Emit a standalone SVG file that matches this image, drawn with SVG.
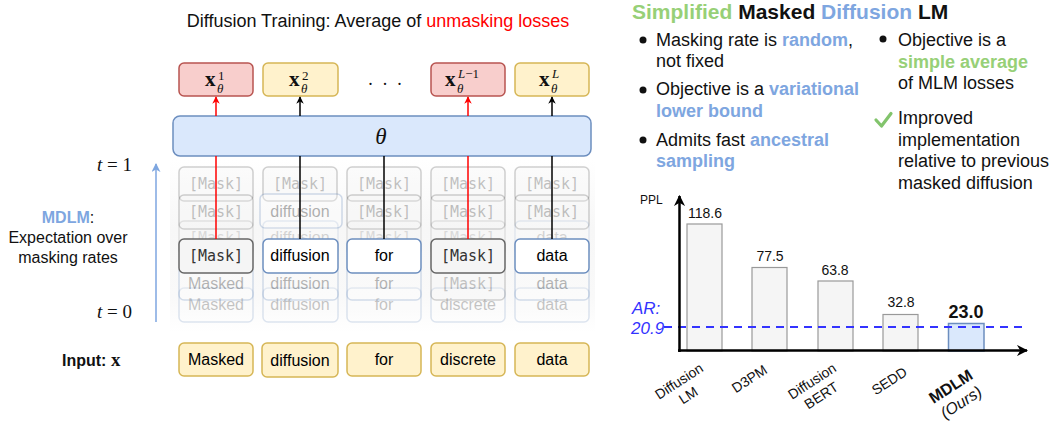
<svg xmlns="http://www.w3.org/2000/svg" width="1053" height="423" viewBox="0 0 1053 423">
<style>
.sans{font-family:"Liberation Sans",Arial,sans-serif}
.mono{font-family:"DejaVu Sans Mono","Liberation Mono",monospace}
.serif{font-family:"Liberation Serif","Times New Roman",serif}
.tok{font-family:"Liberation Sans",Arial,sans-serif;font-size:16px;text-anchor:middle}
.mk{font-family:"DejaVu Sans Mono","Liberation Mono",monospace;font-size:15px;text-anchor:middle;fill:#333}
.gbox{fill:#f5f5f5;stroke:#666;stroke-width:1.5}
.bbox{fill:#fff;stroke:#6c8ebf;stroke-width:1.5}
.ybox{fill:#fff2cc;stroke:#d6b656;stroke-width:1.5}
.rbox{fill:#f8cecc;stroke:#b85450;stroke-width:1.5}
.bar{fill:#f5f5f5;stroke:#999;stroke-width:1.2}
.blue{fill:#7ea6e0;font-weight:bold}
.green{fill:#97d077;font-weight:bold}
.bt{font-family:"Liberation Sans",Arial,sans-serif;font-size:18px;fill:#111}
.val{font-family:"Liberation Sans",Arial,sans-serif;font-size:14px;text-anchor:middle;fill:#111}
.xl{font-family:"Liberation Sans",Arial,sans-serif;font-size:14px;text-anchor:middle;fill:#111}
.mx{font-family:"Liberation Serif","Times New Roman",serif;font-size:21px;font-weight:bold;fill:#111}
.ms{font-family:"Liberation Serif","Times New Roman",serif;font-size:13px;fill:#111}
</style>
<defs>
<marker id="ar" viewBox="0 0 10 10" refX="9" refY="5" markerWidth="5" markerHeight="5" orient="auto"><path d="M0,0 L10,5 L0,10 L3,5 Z" fill="#ff0000"/></marker>
<marker id="ak" viewBox="0 0 10 10" refX="9" refY="5" markerWidth="5" markerHeight="5" orient="auto"><path d="M0,0 L10,5 L0,10 L3,5 Z" fill="#000"/></marker>
<marker id="ab" viewBox="0 0 10 10" refX="9" refY="5" markerWidth="6" markerHeight="6" orient="auto"><path d="M0,0 L10,5 L0,10 L3,5 Z" fill="#7ea6e0"/></marker>
<marker id="ax" viewBox="0 0 10 10" refX="9" refY="5" markerWidth="4.5" markerHeight="4.5" orient="auto"><path d="M0,0 L10,5 L0,10 L3,5 Z" fill="#000"/></marker>
<linearGradient id="bg" x1="0" y1="0" x2="0" y2="1">
<stop offset="0" stop-color="#fff"/><stop offset="0.4" stop-color="#f7f7f7"/><stop offset="0.8" stop-color="#f9f9f9"/><stop offset="1" stop-color="#fff"/>
</linearGradient>
</defs>
<rect width="1053" height="423" fill="#fff"/>

<!-- Left title -->
<text class="sans" x="378" y="27" font-size="18" text-anchor="middle" fill="#111">Diffusion Training: Average of <tspan fill="#ff0000">unmasking losses</tspan></text>

<!-- background band behind the token stack -->
<rect x="170" y="160" width="425" height="172" fill="url(#bg)"/>

<!-- faded token rows -->
<g id="row-t1" opacity="0.3">
<rect class="gbox" x="179" y="167" width="74" height="34" rx="5"/><text class="mk" x="216" y="189">[Mask]</text>
<rect class="gbox" x="263" y="167" width="74" height="34" rx="5"/><text class="mk" x="300" y="189">[Mask]</text>
<rect class="gbox" x="347" y="167" width="74" height="34" rx="5"/><text class="mk" x="384" y="189">[Mask]</text>
<rect class="gbox" x="431" y="167" width="74" height="34" rx="5"/><text class="mk" x="468" y="189">[Mask]</text>
<rect class="gbox" x="515" y="167" width="74" height="34" rx="5"/><text class="mk" x="552" y="189">[Mask]</text>
</g>
<g id="row-t2" opacity="0.3">
<rect class="gbox" x="179" y="195" width="74" height="34" rx="5"/><text class="mk" x="216" y="217">[Mask]</text>
<rect class="bbox" x="260" y="194" width="82" height="34" rx="5"/><text class="tok" x="300" y="217">diffusion</text>
<rect class="gbox" x="347" y="195" width="74" height="34" rx="5"/><text class="mk" x="384" y="217">[Mask]</text>
<rect class="gbox" x="431" y="195" width="74" height="34" rx="5"/><text class="mk" x="468" y="217">[Mask]</text>
<rect class="gbox" x="515" y="195" width="74" height="34" rx="5"/><text class="mk" x="552" y="217">[Mask]</text>
</g>
<g id="row-t3" opacity="0.15">
<rect class="gbox" x="179" y="221" width="74" height="34" rx="5"/><text class="mk" x="216" y="243">[Mask]</text>
<rect class="bbox" x="263" y="221" width="75" height="34" rx="5"/><text class="tok" x="300" y="243">diffusion</text>
<rect class="gbox" x="347" y="221" width="74" height="34" rx="5"/><text class="mk" x="384" y="243">[Mask]</text>
<rect class="gbox" x="431" y="221" width="74" height="34" rx="5"/><text class="mk" x="468" y="243">[Mask]</text>
<rect class="bbox" x="515" y="221" width="74" height="34" rx="5"/><text class="tok" x="552" y="243">data</text>
</g>
<g id="row-b2" opacity="0.22">
<rect class="bbox" x="179" y="288" width="74" height="34" rx="5"/><text class="tok" x="216" y="310">Masked</text>
<rect class="bbox" x="263" y="288" width="75" height="34" rx="5"/><text class="tok" x="300" y="310">diffusion</text>
<rect class="bbox" x="347" y="288" width="74" height="34" rx="5"/><text class="tok" x="384" y="310">for</text>
<rect class="bbox" x="431" y="288" width="74" height="34" rx="5"/><text class="tok" x="468" y="310">discrete</text>
<rect class="bbox" x="515" y="288" width="74" height="34" rx="5"/><text class="tok" x="552" y="310">data</text>
</g>
<g id="row-b1" opacity="0.28">
<rect class="bbox" x="179" y="266" width="74" height="34" rx="5"/><text class="tok" x="216" y="289">Masked</text>
<rect class="bbox" x="263" y="266" width="75" height="34" rx="5"/><text class="tok" x="300" y="289">diffusion</text>
<rect class="bbox" x="347" y="266" width="74" height="34" rx="5"/><text class="tok" x="384" y="289">for</text>
<rect class="gbox" x="431" y="266" width="74" height="34" rx="5"/><text class="mk" x="468" y="289">[Mask]</text>
<rect class="bbox" x="515" y="266" width="74" height="34" rx="5"/><text class="tok" x="552" y="289">data</text>
</g>

<!-- main token row -->
<g id="tok-1"><rect class="gbox" x="179" y="239" width="74" height="34" rx="5"/><text class="mk" x="216" y="261">[Mask]</text></g>
<g id="tok-2"><rect class="bbox" x="263" y="239" width="75" height="34" rx="5"/><text class="tok" x="300" y="261">diffusion</text></g>
<g id="tok-3"><rect class="bbox" x="347" y="239" width="74" height="34" rx="5"/><text class="tok" x="384" y="261">for</text></g>
<g id="tok-4"><rect class="gbox" x="431" y="239" width="74" height="34" rx="5"/><text class="mk" x="468" y="261">[Mask]</text></g>
<g id="tok-5"><rect class="bbox" x="515" y="239" width="74" height="34" rx="5"/><text class="tok" x="552" y="261">data</text></g>

<!-- theta network -->
<g id="theta">
<rect x="173" y="116" width="418" height="40" rx="7" fill="#dae8fc" stroke="#6c8ebf" stroke-width="1.5"/>
<text class="serif" x="381" y="144" font-size="23" font-style="italic" text-anchor="middle" fill="#111">θ</text>
</g>

<!-- outputs -->
<g id="out-1"><rect class="rbox" x="179" y="63" width="74" height="33" rx="5"/>
<text class="mx" x="205" y="86">x</text>
<text class="ms" x="218" y="80">1</text>
<text class="ms" x="217" y="93" font-style="italic">θ</text></g>
<g id="out-2"><rect class="ybox" x="263" y="63" width="75" height="33" rx="5"/>
<text class="mx" x="289" y="86">x</text>
<text class="ms" x="302" y="80">2</text>
<text class="ms" x="301" y="93" font-style="italic">θ</text></g>
<text id="dots" class="serif" x="386" y="90" font-size="18" letter-spacing="2" text-anchor="middle" fill="#111">· · ·</text>
<g id="out-4"><rect class="rbox" x="431" y="63" width="74" height="33" rx="5"/>
<text class="mx" x="445" y="86">x</text>
<text class="ms" x="458" y="78"><tspan font-style="italic">L</tspan>−1</text>
<text class="ms" x="457" y="93" font-style="italic">θ</text></g>
<g id="out-5"><rect class="ybox" x="515" y="63" width="74" height="33" rx="5"/>
<text class="mx" x="539" y="86">x</text>
<text class="ms" x="552" y="78" font-style="italic">L</text>
<text class="ms" x="551" y="93" font-style="italic">θ</text></g>

<!-- input row -->
<text class="sans" x="62" y="366" font-size="16" font-weight="bold" fill="#111">Input: <tspan class="serif" font-size="19">x</tspan></text>
<g id="in-1"><rect class="ybox" x="179" y="343" width="74" height="33" rx="5"/><text class="tok" x="216" y="365">Masked</text></g>
<g id="in-2"><rect class="ybox" x="262" y="343" width="76" height="34" rx="5"/><text class="tok" x="300" y="366">diffusion</text></g>
<g id="in-3"><rect class="ybox" x="347" y="343" width="74" height="33" rx="5"/><text class="tok" x="384" y="365">for</text></g>
<g id="in-4"><rect class="ybox" x="431" y="343" width="74" height="33" rx="5"/><text class="tok" x="468" y="365">discrete</text></g>
<g id="in-5"><rect class="ybox" x="515" y="343" width="74" height="33" rx="5"/><text class="tok" x="552" y="365">data</text></g>

<!-- left labels -->
<text class="serif" x="132" y="171" font-size="19" text-anchor="end" fill="#111"><tspan font-style="italic">t</tspan> = 1</text>
<text class="serif" x="132" y="318" font-size="19" text-anchor="end" fill="#111"><tspan font-style="italic">t</tspan> = 0</text>
<text class="sans" x="68" y="223" font-size="16" text-anchor="middle" fill="#111"><tspan class="blue">MDLM</tspan>:</text>
<text class="sans" x="68" y="243" font-size="16" text-anchor="middle" fill="#111">Expectation over</text>
<text class="sans" x="68" y="263" font-size="16" text-anchor="middle" fill="#111">masking rates</text>

<!-- connectors -->
<g id="connectors" fill="none">
<line x1="156" y1="322" x2="156" y2="164" stroke="#7ea6e0" stroke-width="1.5" marker-end="url(#ab)"/>
<line x1="216" y1="116" x2="216" y2="97" stroke="#ff0000" stroke-width="1.5" marker-end="url(#ar)"/>
<line x1="300" y1="116" x2="300" y2="97" stroke="#000" stroke-width="1.5" marker-end="url(#ak)"/>
<line x1="468" y1="116" x2="468" y2="97" stroke="#ff0000" stroke-width="1.5" marker-end="url(#ar)"/>
<line x1="552" y1="116" x2="552" y2="97" stroke="#000" stroke-width="1.5" marker-end="url(#ak)"/>
<line x1="216" y1="156" x2="216" y2="239" stroke="#ff0000" stroke-width="1.5"/>
<line x1="300" y1="156" x2="300" y2="239" stroke="#000" stroke-width="1.5"/>
<line x1="384" y1="156" x2="384" y2="239" stroke="#000" stroke-width="1.5"/>
<line x1="468" y1="156" x2="468" y2="239" stroke="#ff0000" stroke-width="1.5"/>
<line x1="552" y1="156" x2="552" y2="239" stroke="#000" stroke-width="1.5"/>
</g>

<!-- Right panel -->
<text class="sans" x="632" y="19" font-size="21" font-weight="bold" fill="#111"><tspan fill="#97d077">Simplified</tspan> Masked <tspan fill="#7ea6e0">Diffusion</tspan> LM</text>
<g id="bullets">
<circle cx="643" cy="40" r="3.5" fill="#111"/>
<circle cx="643" cy="90" r="3.5" fill="#111"/>
<circle cx="643" cy="140" r="3.5" fill="#111"/>
<circle cx="883" cy="39" r="3.5" fill="#111"/>
<text class="bt" x="656" y="46">Masking rate is <tspan class="blue">random</tspan>,</text>
<text class="bt" x="656" y="67">not fixed</text>
<text class="bt" x="656" y="95">Objective is a <tspan class="blue">variational</tspan></text>
<text class="bt" x="656" y="117"><tspan class="blue">lower bound</tspan></text>
<text class="bt" x="656" y="146">Admits fast <tspan class="blue">ancestral</tspan></text>
<text class="bt" x="656" y="167"><tspan class="blue">sampling</tspan></text>
<text class="bt" x="898" y="46">Objective is a</text>
<text class="bt" x="898" y="68"><tspan class="green">simple average</tspan></text>
<text class="bt" x="898" y="89">of MLM losses</text>
<path d="M876,120 L881.5,126 L891,113.5" fill="none" stroke="#82c46c" stroke-width="3.2" stroke-linecap="round" stroke-linejoin="round"/>
<text class="bt" x="898" y="124">Improved</text>
<text class="bt" x="898" y="146">implementation</text>
<text class="bt" x="898" y="167">relative to previous</text>
<text class="bt" x="898" y="189">masked diffusion</text>
</g>

<!-- Chart -->
<g id="chart">
<text class="sans" x="640" y="204" font-size="12" fill="#111">PPL</text>
<rect class="bar" x="687" y="224" width="35" height="127"/>
<rect class="bar" x="752" y="267.5" width="35" height="83.5"/>
<rect class="bar" x="818" y="281" width="35" height="70"/>
<rect class="bar" x="883" y="314.5" width="35" height="36.5"/>
<rect x="948.5" y="323.5" width="35.5" height="27.5" fill="#dae8fc" stroke="#6c8ebf" stroke-width="1.5"/>
<text class="val" x="705" y="218">118.6</text>
<text class="val" x="770" y="261">77.5</text>
<text class="val" x="835" y="275">63.8</text>
<text class="val" x="901" y="307">32.8</text>
<text class="sans" x="966" y="318" font-size="18" font-weight="bold" text-anchor="middle" fill="#111">23.0</text>
<line x1="664" y1="327" x2="1025" y2="327" stroke="#3333ff" stroke-width="2" stroke-dasharray="8,6"/>
<text class="sans" x="632" y="314" font-size="17" font-style="italic" fill="#3333ff">AR:</text>
<text class="sans" x="631" y="334" font-size="17" font-style="italic" fill="#3333ff">20.9</text>
<line x1="679.5" y1="352" x2="679.5" y2="196" stroke="#000" stroke-width="2.5" marker-end="url(#ax)"/>
<line x1="678" y1="350.5" x2="1027" y2="350.5" stroke="#000" stroke-width="2.5" marker-end="url(#ax)"/>
<g transform="translate(686,392) rotate(-33)"><text class="xl" x="0" y="-8">Diffusion</text><text class="xl" x="0" y="9">LM</text></g>
<g transform="translate(752,383) rotate(-33)"><text class="xl" x="0" y="0">D3PM</text></g>
<g transform="translate(819,392) rotate(-33)"><text class="xl" x="0" y="-8">Diffusion</text><text class="xl" x="0" y="9">BERT</text></g>
<g transform="translate(892,385) rotate(-33)"><text class="xl" x="0" y="0">SEDD</text></g>
<g transform="translate(957,396) rotate(-33)"><text class="sans" x="0" y="-6" font-size="16" font-weight="bold" text-anchor="middle" fill="#111">MDLM</text><text class="sans" x="0" y="13" font-size="16" font-style="italic" text-anchor="middle" fill="#111">(Ours)</text></g>
</g>
</svg>
